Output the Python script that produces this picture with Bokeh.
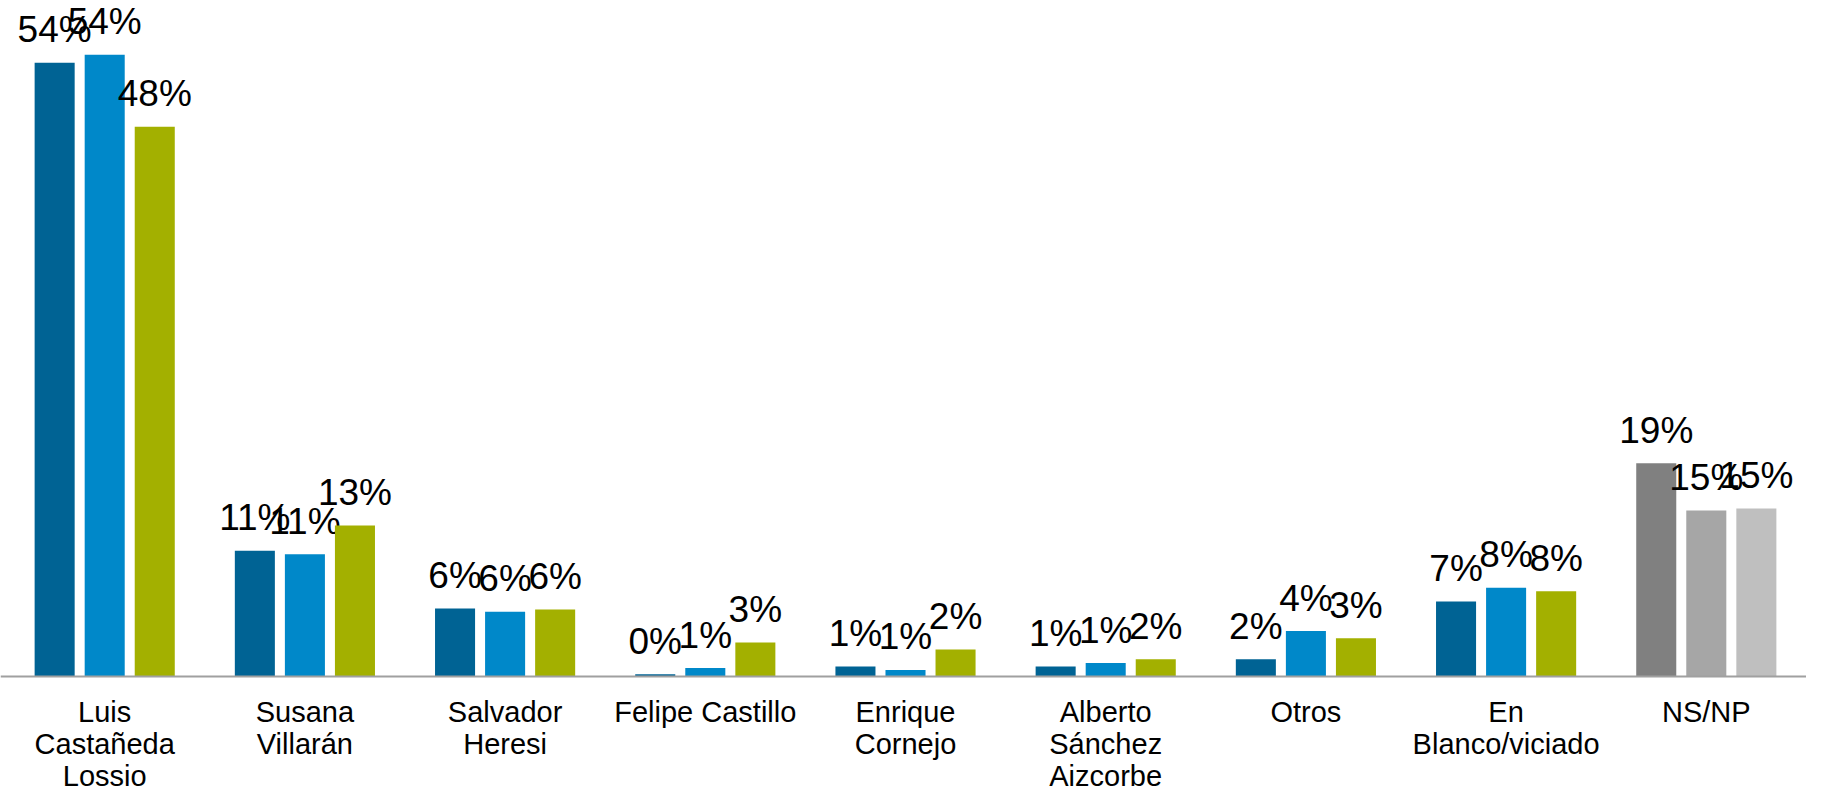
from bokeh.plotting import figure
from bokeh.models import ColumnDataSource, Range1d, Span
from bokeh.core.properties import value
from bokeh.embed import file_html
from bokeh.resources import INLINE

categories = ["Luis\nCastañeda\nLossio", "Susana\nVillarán", "Salvador\nHeresi",
              "Felipe Castillo", "Enrique\nCornejo", "Alberto\nSánchez\nAizcorbe",
              "Otros", "En\nBlanco/viciado", "NS/NP"]

series1 = [53.7, 11.0, 5.95, 0.2, 0.87, 0.87, 1.5, 6.56, 18.66]
series2 = [54.4, 10.7, 5.66, 0.74, 0.57, 1.18, 3.98, 7.76, 14.52]
series3 = [48.1, 13.2, 5.86, 2.97, 2.36, 1.5, 3.35, 7.46, 14.7]

labels1 = ["54%", "11%", "6%", "0%", "1%", "1%", "2%", "7%", "19%"]
labels2 = ["54%", "11%", "6%", "1%", "1%", "1%", "4%", "8%", "15%"]
labels3 = ["48%", "13%", "6%", "3%", "2%", "2%", "3%", "8%", "15%"]

series_colors = ["#006394", "#0088C9", "#A3B000"]
grey_colors = ["#808080", "#A6A6A6", "#BFBFBF"]
offsets = [-0.25, 0.0, 0.25]

FRAME_W = 1806
FRAME_H = 790
PX_PER_UNIT = 11.43
BASE_PX = 676
Y_TOP = BASE_PX / PX_PER_UNIT
Y_BOTTOM = -(FRAME_H - BASE_PX) / PX_PER_UNIT
X_START = -104.2 / 200.2
X_END = X_START + FRAME_W / 200.2

p = figure(width=FRAME_W, height=FRAME_H, output_backend="svg",
           toolbar_location=None, x_range=Range1d(X_START, X_END),
           y_range=Range1d(Y_BOTTOM, Y_TOP), min_border=0)
p.min_border_left = 0
p.min_border_right = 0
p.min_border_top = 0
p.min_border_bottom = 0
p.outline_line_color = None
p.xgrid.visible = False
p.ygrid.visible = False
p.xaxis.visible = False
p.yaxis.visible = False
p.background_fill_color = "white"
p.border_fill_color = "white"

n = len(categories)
for k, (vals, labs) in enumerate(zip([series1, series2, series3], [labels1, labels2, labels3])):
    xs = [i + offsets[k] for i in range(n)]
    cols = [series_colors[k]] * (n - 1) + [grey_colors[k]]
    src = ColumnDataSource(dict(x=xs, top=vals, color=cols, label=labs))
    p.vbar(x="x", top="top", bottom=0, width=0.2, fill_color="color",
           line_color=None, source=src)
    p.text(x="x", y="top", text="label", source=src, text_align="center",
           text_baseline="alphabetic", y_offset=-33,
           text_font=value("Liberation Sans"), text_font_size="37px",
           text_color="#000000")

# baseline (category axis line)
p.add_layout(Span(location=0, dimension="width", line_color="#A0A0A0", line_width=2))

# category labels, placed on the x scale below the baseline
cat_src = ColumnDataSource(dict(x=list(range(n)), y=[0] * n, text=categories))
p.text(x="x", y="y", text="text", source=cat_src, text_align="center",
       text_baseline="top", y_offset=19, text_line_height=1.0,
       text_font=value("Liberation Sans"), text_font_size="29px",
       text_color="#000000")

open("out.html", "w").write(file_html(p, INLINE))
